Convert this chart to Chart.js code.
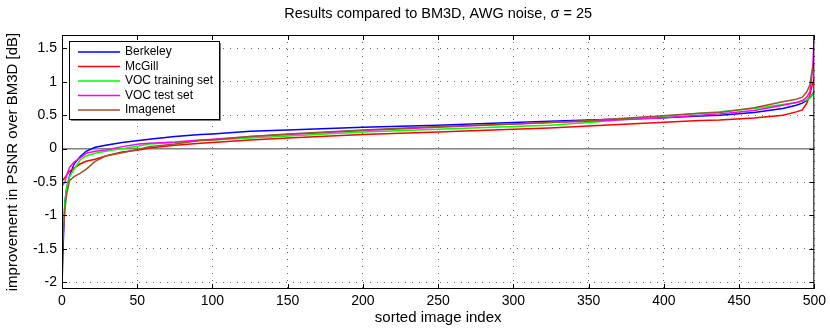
<!DOCTYPE html>
<html>
<head>
<meta charset="utf-8">
<script src="https://cdn.jsdelivr.net/npm/chart.js@4.4.0/dist/chart.umd.min.js"></script>
<style>
  html, body { margin: 0; padding: 0; background: #fff; }
  #wrap { width: 830px; height: 329px; }
</style>
</head>
<body>
<div id="wrap"><canvas id="c"></canvas></div>
<script>
// sorted image index (sample positions)
const idx = [0, 1, 2, 3, 5, 8, 12, 16, 22, 29, 40, 51, 58, 75, 92, 100, 125, 150, 200, 250,
             300, 324, 350, 397, 424, 437, 460, 479, 488, 492, 495, 497, 498, 499, 500];

const berkeley = [-2.05, -1.3, -0.78, -0.6, -0.41, -0.23, -0.12, -0.04, 0.02, 0.05, 0.09, 0.12, 0.14, 0.18, 0.21, 0.22, 0.26, 0.28, 0.32, 0.35,
                  0.39, 0.41, 0.43, 0.46, 0.49, 0.50, 0.54, 0.60, 0.65, 0.68, 0.72, 0.76, 0.79, 0.82, 0.85];
const mcgill   = [-0.48, -0.46, -0.43, -0.40, -0.34, -0.29, -0.23, -0.19, -0.16, -0.11, -0.05, -0.02, 0.01, 0.05, 0.08, 0.09, 0.13, 0.16, 0.21, 0.25,
                  0.29, 0.31, 0.34, 0.39, 0.42, 0.43, 0.46, 0.50, 0.55, 0.58, 0.68, 0.80, 0.90, 0.98, 1.05];
const vocTrain = [-1.48, -1.1, -0.8, -0.6, -0.42, -0.31, -0.17, -0.11, -0.07, -0.04, 0.0, 0.04, 0.07, 0.09, 0.12, 0.13, 0.16, 0.19, 0.25, 0.29,
                  0.33, 0.35, 0.39, 0.48, 0.53, 0.55, 0.60, 0.66, 0.69, 0.71, 0.73, 0.76, 0.78, 0.81, 0.85];
const vocTest  = [-0.56, -0.53, -0.50, -0.40, -0.28, -0.2, -0.14, -0.07, -0.04, -0.02, 0.03, 0.07, 0.08, 0.10, 0.13, 0.14, 0.18, 0.21, 0.27, 0.32,
                  0.37, 0.39, 0.41, 0.46, 0.50, 0.52, 0.57, 0.65, 0.69, 0.72, 0.77, 0.85, 1.0, 1.25, 1.72];
const imagenet = [-1.62, -1.2, -0.9, -0.7, -0.48, -0.42, -0.37, -0.31, -0.19, -0.11, -0.06, -0.01, 0.03, 0.07, 0.12, 0.13, 0.18, 0.22, 0.28, 0.33,
                  0.37, 0.39, 0.42, 0.49, 0.53, 0.54, 0.61, 0.70, 0.74, 0.77, 0.85, 0.95, 1.1, 1.22, 1.27];

const names  = ['Berkeley', 'McGill', 'VOC training set', 'VOC test set', 'Imagenet'];
const colors = ['#0000ff', '#ff0000', '#00ff00', '#ff00ff', '#a0522d'];
const series = [berkeley, mcgill, vocTrain, vocTest, imagenet];

const xTicks = [0, 50, 100, 150, 200, 250, 300, 350, 400, 450, 500];
const yTicks = [-2, -1.5, -1, -0.5, 0, 0.5, 1, 1.5];

const FONT = 'Liberation Sans, Arial, Helvetica, sans-serif';

const datasets = series.map((s, i) => ({
  label: names[i],
  data: idx.map((x, k) => ({ x: x, y: s[k] })),
  borderColor: colors[i],
  borderWidth: 1.5,
  pointRadius: 0,
  tension: 0,
  fill: false,
  order: series.length - i
}));

// frame, zero line, inward ticks, legend box
const decor = {
  id: 'decor',
  beforeDatasetsDraw(chart) {
    const { ctx, chartArea: a, scales: { y } } = chart;
    const y0 = y.getPixelForValue(0);
    ctx.save();
    ctx.strokeStyle = '#808080';
    ctx.lineWidth = 1.5;
    ctx.beginPath();
    ctx.moveTo(a.left, y0);
    ctx.lineTo(a.right, y0);
    ctx.stroke();
    ctx.restore();
  },
  afterDraw(chart) {
    const { ctx, chartArea: a, scales: { x, y } } = chart;
    ctx.save();
    ctx.strokeStyle = '#000';
    ctx.lineWidth = 1;
    ctx.strokeRect(a.left + 0.5, a.top + 0.5, a.right - a.left - 1, a.bottom - a.top - 1);
    ctx.beginPath();
    xTicks.forEach(v => {
      const px = Math.round(x.getPixelForValue(v)) + 0.5;
      ctx.moveTo(px, a.bottom); ctx.lineTo(px, a.bottom - 5);
      ctx.moveTo(px, a.top); ctx.lineTo(px, a.top + 5);
    });
    yTicks.forEach(v => {
      const py = Math.round(y.getPixelForValue(v)) + 0.5;
      ctx.moveTo(a.left, py); ctx.lineTo(a.left + 5, py);
      ctx.moveTo(a.right, py); ctx.lineTo(a.right - 5, py);
    });
    ctx.stroke();

    // legend
    const lx = a.left + 7, ly = a.top + 6, lw = 150, lh = 78;
    ctx.fillStyle = '#808080';
    ctx.fillRect(lx + 2, ly + 2, lw, lh);
    ctx.fillStyle = '#fff';
    ctx.fillRect(lx, ly, lw, lh);
    ctx.strokeStyle = '#000';
    ctx.strokeRect(lx + 0.5, ly + 0.5, lw, lh);
    ctx.font = '12px ' + FONT;
    ctx.textBaseline = 'middle';
    names.forEach((n, i) => {
      const ry = ly + 11 + i * 14.5;
      ctx.strokeStyle = colors[i];
      ctx.lineWidth = 1.5;
      ctx.beginPath();
      ctx.moveTo(lx + 9, ry); ctx.lineTo(lx + 51, ry);
      ctx.stroke();
      ctx.fillStyle = '#000';
      ctx.fillText(n, lx + 56, ry);
    });
    ctx.restore();
  }
};

new Chart(document.getElementById('c'), {
  type: 'line',
  data: { datasets },
  options: {
    responsive: true,
    maintainAspectRatio: false,
    animation: false,
    layout: { padding: { left: 0, right: 15, top: 0, bottom: 0 } },
    plugins: {
      legend: { display: false },
      tooltip: { enabled: false },
      title: {
        display: true,
        fullSize: false,
        text: 'Results compared to BM3D, AWG noise, σ = 25',
        color: '#000',
        font: { family: FONT, size: 14.5, weight: 'normal' },
        padding: { top: 5, bottom: 12.6 }
      }
    },
    scales: {
      x: {
        type: 'linear',
        min: 0, max: 500,
        afterBuildTicks: s => { s.ticks = xTicks.map(v => ({ value: v })); },
        afterFit: s => { s.height = 40; },
        ticks: { color: '#000', padding: 4, font: { family: FONT, size: 14 }, maxRotation: 0 },
        grid: { color: '#666', drawTicks: false, lineWidth: 1 },
        border: { display: false, dash: [1, 6] },
        title: { display: true, text: 'sorted image index', color: '#000', font: { family: FONT, size: 15 }, padding: { top: 0, bottom: 2 } }
      },
      y: {
        min: -2.1, max: 1.7,
        afterBuildTicks: s => { s.ticks = yTicks.map(v => ({ value: v })); },
        afterFit: s => { s.width = 62; },
        ticks: { color: '#000', padding: 5, font: { family: FONT, size: 14 }, callback: v => String(v) },
        grid: { color: '#666', drawTicks: false, lineWidth: 1 },
        border: { display: false, dash: [1, 6] },
        title: { display: true, text: 'improvement in PSNR over BM3D [dB]', color: '#000', font: { family: FONT, size: 15 }, padding: { top: 4, bottom: 0 } }
      }
    }
  },
  plugins: [decor]
});
</script>
</body>
</html>
